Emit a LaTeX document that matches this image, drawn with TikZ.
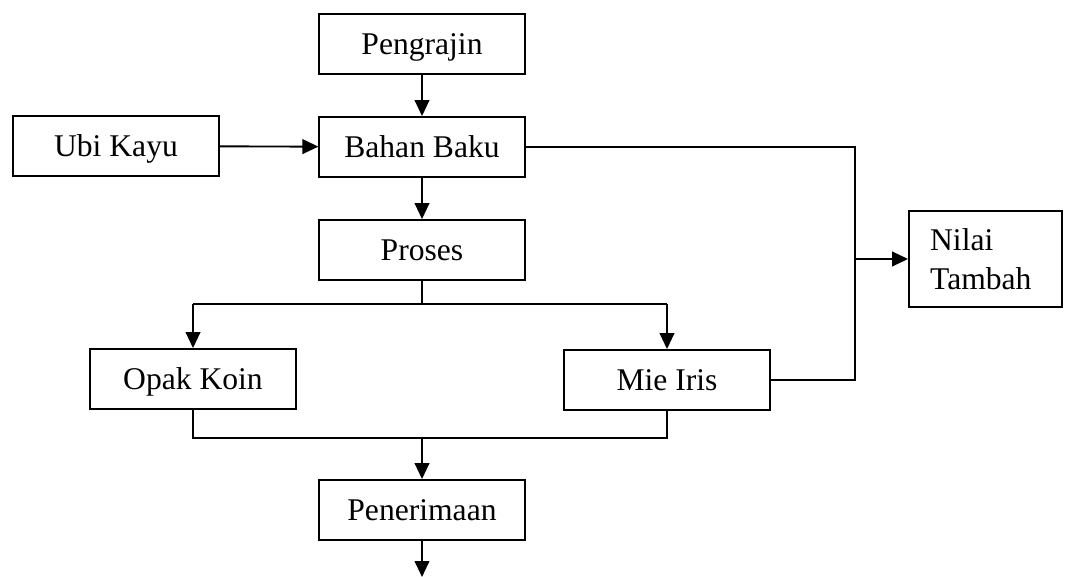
\documentclass[tikz,border=0pt]{standalone}
\usepackage{fontspec}
\setmainfont{Liberation Serif}
\usetikzlibrary{arrows.meta}
\begin{document}
\begin{tikzpicture}[x=0.75pt,y=-0.75pt,
  basebox/.style={draw,line width=1.4pt,inner sep=0pt,
    font=\fontsize{23.7}{29.25}\selectfont},
  box/.style={basebox,minimum width=154pt,minimum height=45pt,
    text height=20pt,text depth=4.2pt},
  conn/.style={line width=1.4pt},
  arr/.style={conn,-{Triangle[length=12pt,width=11pt]}}]
\useasboundingbox (0,0) rectangle (1068,577);
\node[box] (peng) at (422,44) {Pengrajin};
\node[box] (ubi) at (116,146) {Ubi Kayu};
\node[box] (bahan) at (422,147) {Bahan Baku};
\node[box] (proses) at (422,250) {Proses};
\node[box] (opak) at (193,379) {Opak Koin};
\node[box] (mie) at (667,380) {Mie Iris};
\node[box] (pen) at (422,510) {Penerimaan};
\node[basebox,minimum width=114.75pt,minimum height=72pt,text width=83pt,align=left,inner xsep=15.75pt] (nilai) at (985.5,259) {Nilai\\Tambah};
\coordinate (bend1) at (855,147);
\coordinate (bend2) at (855,380);
\coordinate (vmid) at (855,259);
\coordinate (split) at (422,304);
\coordinate (splitL) at (193,304);
\coordinate (splitR) at (667,304);
\coordinate (joinL) at (193,438);
\coordinate (joinR) at (667,438);
\coordinate (join) at (422,438);
\coordinate (out) at (422,577);
\draw[arr] (peng) -- (bahan);
\draw[arr] (ubi) -- (bahan);
\draw[arr] (bahan) -- (proses);
\draw[conn] (bahan.east) -- (bend1) -- (bend2) -- (mie.east);
\draw[arr] (vmid) -- (nilai.west);
\draw[conn] (proses.south) -- (split);
\draw[conn] (splitL) -- (splitR);
\draw[arr] (splitL) -- (opak.north);
\draw[arr] (splitR) -- (mie.north);
\draw[conn] (opak.south) -- (joinL) -- (joinR) -- (mie.south);
\draw[arr] (join) -- (pen.north);
\draw[arr] (pen.south) -- (out);
\end{tikzpicture}
\end{document}
